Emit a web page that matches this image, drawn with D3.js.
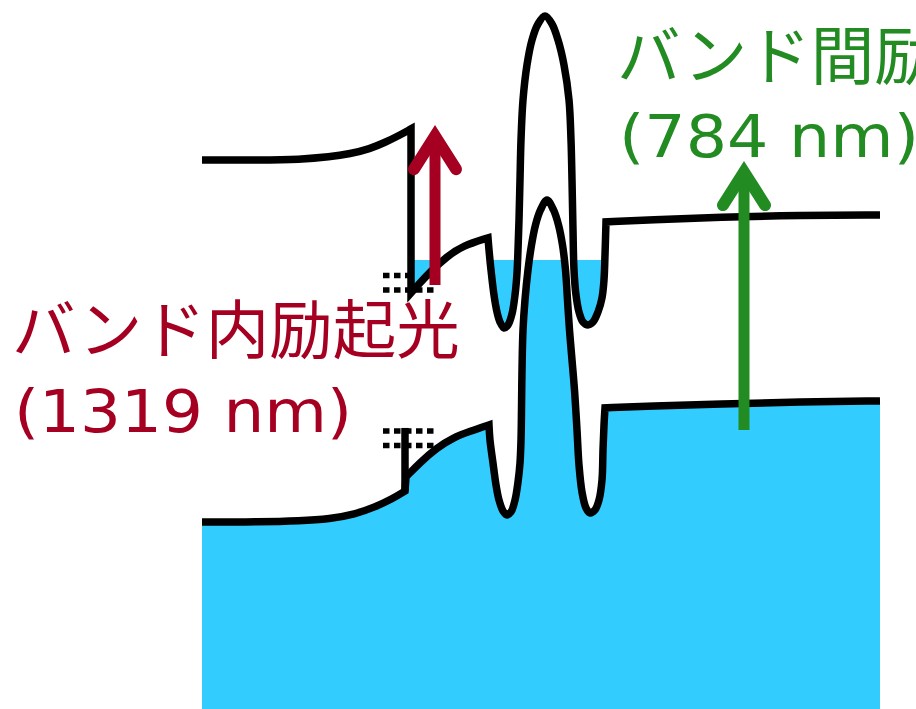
<!DOCTYPE html>
<html>
<head>
<meta charset="utf-8">
<script src="https://cdn.jsdelivr.net/npm/d3@7"></script>
<style>
  html, body { margin: 0; padding: 0; background: #fff; overflow: hidden; }
</style>
</head>
<body>
<svg id="chart" width="916" height="709"></svg>
<script>
// ---- Band profile data: [position (nm), energy (eV)] ----
// Conduction band, split into smooth stretches
const cbLeft = [[0, 2.129], [5.8, 2.129], [9.8, 2.132], [12.8, 2.147], [14.8, 2.165],
  [16.8, 2.195], [18.3, 2.232], [19.8, 2.276], [20.9, 2.312]];
const cbStep = [[20.9, 2.312], [20.9, 1.347]];
const cbRise = [[20.9, 1.347], [21.8, 1.406], [22.8, 1.47], [24.5, 1.562], [26.1, 1.625], [28.6, 1.671]];
const cbWells = [[28.6, 1.671], [28.7, 1.6], [28.9, 1.482], [29.2, 1.335], [29.5, 1.235], [29.8, 1.176],
  [30.2, 1.141], [30.6, 1.159], [31.0, 1.224], [31.3, 1.335], [31.5, 1.465], [31.6, 1.6],
  [31.7, 1.776], [31.8, 2.012], [31.9, 2.247], [32.1, 2.482], [32.5, 2.688], [33.0, 2.835],
  [33.6, 2.929], [34.3, 2.976], [35.0, 2.929], [35.6, 2.835], [36.2, 2.688], [36.7, 2.482],
  [36.9, 2.247], [37.0, 2.012], [37.1, 1.718], [37.2, 1.482], [37.4, 1.335], [37.7, 1.235],
  [38.1, 1.176], [38.6, 1.159], [39.1, 1.176], [39.6, 1.235], [40.0, 1.318], [40.2, 1.424],
  [40.3, 1.571], [40.4, 1.765]];
const cbRight = [[40.4, 1.765], [44.8, 1.776], [51.8, 1.794], [59.8, 1.803], [67.8, 1.806]];

// Valence band
const vbLeft = [[0, 0], [5.8, 0], [9.8, 0.006], [12.8, 0.018], [15.3, 0.045], [17.3, 0.088],
  [19.0, 0.135], [20.3, 0.182]];
const vbStep = [[20.3, 0.182], [20.3, 0.553]];
const vbRise = [[20.4, 0.265], [21.8, 0.35], [23.5, 0.437], [25.1, 0.496], [26.8, 0.533], [28.7, 0.571]];
const vbWells = [[28.7, 0.571], [28.8, 0.482], [29.1, 0.347], [29.4, 0.218], [29.7, 0.129],
  [30.1, 0.065], [30.5, 0.041], [30.9, 0.059], [31.3, 0.129], [31.6, 0.235], [31.8, 0.347],
  [31.9, 0.482], [31.95, 0.659], [32.0, 0.894], [32.1, 1.129], [32.3, 1.306], [32.6, 1.482],
  [32.95, 1.629], [33.35, 1.747], [33.85, 1.835], [34.5, 1.894], [35.15, 1.835], [35.65, 1.747],
  [36.05, 1.629], [36.35, 1.482], [36.55, 1.306], [36.75, 1.129], [37.0, 0.953], [37.25, 0.776],
  [37.5, 0.541], [37.7, 0.335], [38.0, 0.176], [38.4, 0.082], [38.8, 0.053], [39.3, 0.071],
  [39.7, 0.129], [40.0, 0.247], [40.1, 0.424], [40.2, 0.571], [40.3, 0.671]];
const vbRight = [[40.3, 0.671], [44.8, 0.682], [51.8, 0.694], [59.8, 0.706], [67.8, 0.712]];

// Fermi level (eV)
const fermiLevel = 1.541;

// Interface markers: dotted rows [from nm, to nm, energy eV]
const interfaceMarks = [[18.1, 23.2, 1.45], [18.1, 23.2, 1.365], [18.1, 23.2, 0.535], [18.1, 23.2, 0.45]];

// Optical excitations
const excitationNames = ["バンド内励起光", "バンド間励起光"];
const wavelengthsNm = [1319, 784];
const excitationPositions = [23.3, 54.2];      // nm
const excitationStartEnergies = [1.394, 0.541]; // eV

// ---- Drawing ----
const W = 916, H = 709;
const svg = d3.select("#chart");
const x = d3.scaleLinear().domain([0, 68]).range([202, 882]);
const y = d3.scaleLinear().domain([-1.1, 3.07]).range([H, 0]);

const gentle = d3.line().x(d => x(d[0])).y(d => y(d[1])).curve(d3.curveBasis);
const sharp = d3.line().x(d => x(d[0])).y(d => y(d[1])).curve(d3.curveCatmullRom.alpha(0.5));
const straight = d3.line().x(d => x(d[0])).y(d => y(d[1]));

// Join stretches into one continuous path so the corners are mitred
const joined = parts => parts.map(([gen, pts], i) => {
  const d = gen(pts);
  return i ? d.replace(/^M/, "L") : d;
}).join("");

const cbPath = joined([[gentle, cbLeft], [straight, cbStep], [gentle, cbRise], [sharp, cbWells], [gentle, cbRight]]);
const vbPath = joined([[gentle, vbLeft], [gentle, vbRise], [sharp, vbWells], [gentle, vbRight]]);

const bandColor = "#000";
const fillColor = "#33CCFF";
const excitationColors = ["#A50021", "#228B22"];

// Interface markers (under the fill)
svg.append("g").selectAll("line").data(interfaceMarks).join("line")
  .attr("x1", d => x(d[0])).attr("x2", d => x(d[1]))
  .attr("y1", d => y(d[2])).attr("y2", d => y(d[2]))
  .attr("stroke", "#000").attr("stroke-width", 5.5)
  .attr("stroke-dasharray", "6.5,4.5");

// Occupied states, cut at the Fermi level
svg.append("clipPath").attr("id", "belowFermi")
  .append("rect").attr("x", 0).attr("y", y(fermiLevel))
  .attr("width", W).attr("height", H - y(fermiLevel));

const fills = svg.append("g").attr("clip-path", "url(#belowFermi)");
fills.append("path")
  .attr("d", vbPath + `L${x(67.8)},${H}L${x(0)},${H}Z`)
  .attr("fill", fillColor);
fills.append("path")
  .attr("d", joined([[gentle, cbRise], [sharp, cbWells]]) + `L${x(40.4)},0L${x(20.9)},0Z`)
  .attr("fill", fillColor);

// Band edges
const bands = svg.append("g").attr("fill", "none").attr("stroke", bandColor)
  .attr("stroke-width", 7.5).attr("stroke-linejoin", "miter").attr("stroke-miterlimit", 10);
bands.append("path").attr("d", cbPath);
bands.append("path").attr("d", vbPath);
bands.append("path").attr("d", straight(vbStep));

// Excitation arrows: length = photon energy hc/λ
const arrows = svg.append("g");
wavelengthsNm.forEach((w, i) => {
  const px = x(excitationPositions[i]);
  const e0 = excitationStartEnergies[i];
  const e1 = e0 + 1239.84 / w;
  const vy = y(e1) + 11;
  const g = arrows.append("g").attr("stroke", excitationColors[i]).attr("fill", "none");
  g.append("line").attr("x1", px).attr("x2", px).attr("y1", y(e0)).attr("y2", vy + 2)
    .attr("stroke-width", 11);
  g.append("path")
    .attr("d", `M${px - 21},${vy + 33}L${px},${vy}L${px + 21},${vy + 33}`)
    .attr("stroke-width", 12).attr("stroke-linecap", "round")
    .attr("stroke-linejoin", "miter").attr("stroke-miterlimit", 10);
});

// Labels
const labelAnchors = [[12, 353, 432, 338], [617, 79, 157, 300]];
excitationNames.forEach((name, i) => {
  const [lx, y1, y2, len] = labelAnchors[i];
  svg.append("text").attr("x", lx).attr("y", y1)
    .attr("font-family", "'Noto Sans CJK JP', sans-serif").attr("font-size", 63.5)
    .attr("fill", excitationColors[i]).text(name);
  svg.append("text").attr("x", lx + 2).attr("y", y2)
    .attr("font-family", "'DejaVu Sans', sans-serif").attr("font-size", 59)
    .attr("textLength", len).attr("lengthAdjust", "spacingAndGlyphs")
    .attr("fill", excitationColors[i]).text(`(${wavelengthsNm[i]} nm)`);
});
</script>
</body>
</html>
